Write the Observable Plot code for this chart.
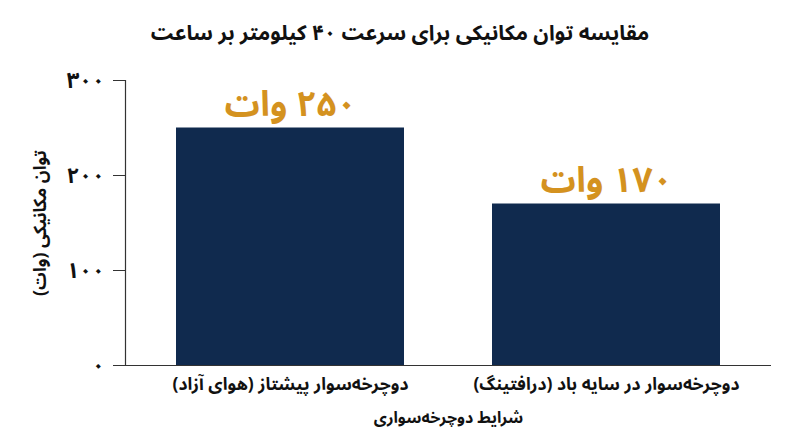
<!DOCTYPE html>
<html>
<head>
<meta charset="utf-8">
<script src="https://cdn.jsdelivr.net/npm/d3@7"></script>
<script src="https://cdn.jsdelivr.net/npm/@observablehq/plot@0.6"></script>
<style>
  body { margin: 0; background: #fff; font-family: "Noto Sans Arabic", "Vazirmatn", "DejaVu Sans", sans-serif; }
  #title { height: 58px; line-height: 66px; text-align: center; font-size: 21px; font-weight: bold; color: #111; }
  svg { font-family: "Noto Sans Arabic", "Vazirmatn", "DejaVu Sans", sans-serif; }
</style>
</head>
<body>
<div id="title" dir="rtl">مقایسه توان مکانیکی برای سرعت ۴۰ کیلومتر بر ساعت</div>
<div id="chart"></div>
<script>
const categories = ["دوچرخه‌سوار پیشتاز (هوای آزاد)", "دوچرخه‌سوار در سایه باد (درافتینگ)"];
const values = [250, 170];
const yTicks = [0, 100, 200, 300];
const unit = "وات";
const yLabel = "توان مکانیکی (وات)";
const xLabel = "شرایط دوچرخه‌سواری";

const fa = (n) => String(n).replace(/\d/g, (d) => "۰۱۲۳۴۵۶۷۸۹"[d]);
const rtl = (s) => "\u202B" + s + "\u202C";

const data = categories.map((c, i) => ({cat: c, value: values[i]}));

const chart = Plot.plot({
  width: 800,
  height: 389,
  marginTop: 22,
  marginLeft: 125,
  marginRight: 29,
  marginBottom: 82,
  x: {domain: categories, paddingInner: 0.278, paddingOuter: 0.158, label: null},
  y: {domain: [0, 300], label: null},
  marks: [
    Plot.barY(data, {x: "cat", y: "value", fill: "#102a4e"}),
    Plot.ruleY([0], {stroke: "#333", strokeWidth: 1.2}),
    Plot.frame({anchor: "left", stroke: "#333", strokeWidth: 1.2}),
    Plot.axisY({ticks: yTicks, tickFormat: fa, tickSize: 12, tickPadding: 9, fontSize: 22, fontWeight: "bold", stroke: "#333", fill: "#111", label: null}),
    Plot.text([rtl(yLabel)], {frameAnchor: "left", dx: -85, rotate: -90, textAnchor: "middle", fontSize: 17.5, fontWeight: "bold", fill: "#111"}),
    Plot.axisX({tickSize: 0, tickPadding: 12, fontSize: 17.5, fontWeight: "bold", fill: "#111", tickFormat: rtl, label: null}),
    Plot.text([rtl(xLabel)], {frameAnchor: "bottom", dy: 57, fontSize: 16, fontWeight: "bold", fill: "#111"}),
    Plot.text(data, {x: "cat", y: "value", text: (d) => rtl(fa(d.value) + " " + unit), dy: -12, lineAnchor: "bottom", fill: "#d4921f", fontSize: 35, fontWeight: "bold"})
  ]
});
document.getElementById("chart").appendChild(chart);
</script>
</body>
</html>
